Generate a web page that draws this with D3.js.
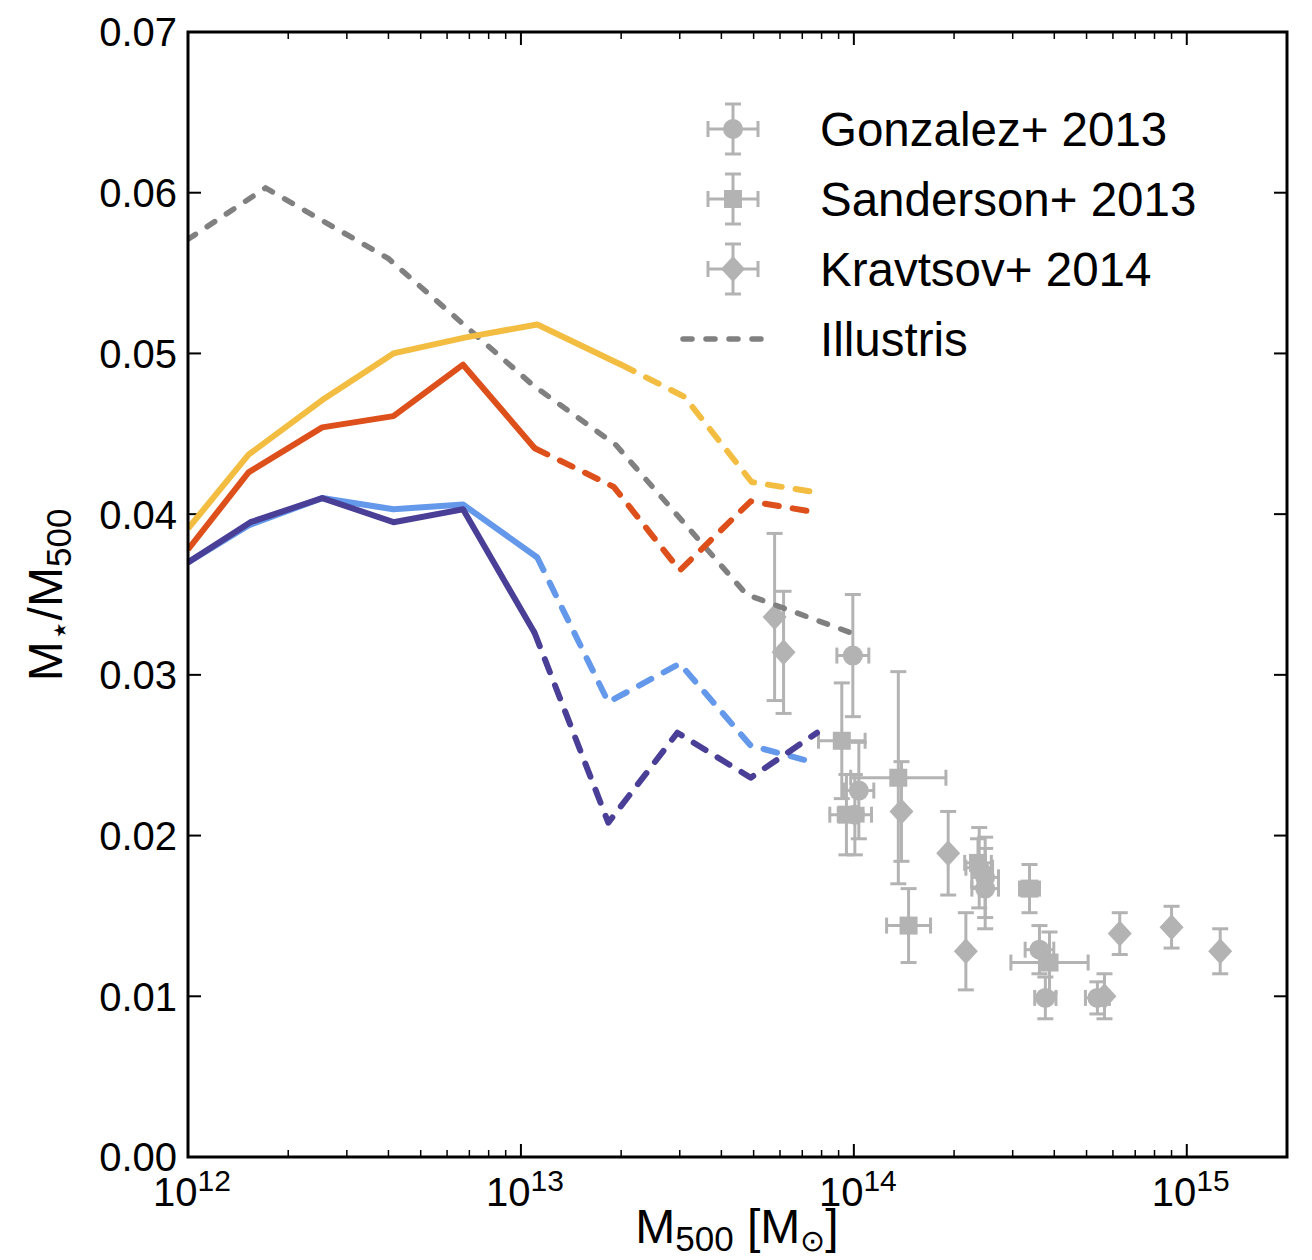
<!DOCTYPE html>
<html>
<head>
<meta charset="utf-8">
<script src="https://cdn.jsdelivr.net/npm/d3@7"></script>
<style>
  body { margin: 0; background: #fff; }
  text { font-family: "Liberation Sans", Arial, sans-serif; fill: #000; }
</style>
</head>
<body>
<div id="chart-container"></div>
<script>
const width = 1312;
const height = 1260;
const margin = { top: 32, left: 188, right: 25, bottom: 103 };

// simulation curves (halo mass, stellar fraction)
const yellowM = [1e12, 1.52e12, 2.53e12, 4.14e12, 6.83e12, 1.12e13, 2.0e13, 3.1e13, 4.93e13, 8.0e13];
const yellowF = [0.0391, 0.0437, 0.0471, 0.0500, 0.0510, 0.0518, 0.0493, 0.0473, 0.0420, 0.0413];
const redM = [1e12, 1.52e12, 2.53e12, 4.14e12, 6.7e12, 1.1e13, 1.9e13, 3.0e13, 4.9e13, 7.75e13];
const redF = [0.0378, 0.0426, 0.0454, 0.0461, 0.0493, 0.0441, 0.0417, 0.0365, 0.0408, 0.0401];
const blueM = [1e12, 1.52e12, 2.53e12, 4.14e12, 6.7e12, 1.12e13, 1.83e13, 3.0e13, 4.9e13, 7.75e13];
const blueF = [0.0370, 0.0393, 0.0410, 0.0403, 0.0406, 0.0373, 0.0283, 0.0307, 0.0256, 0.0245];
const purpleM = [1e12, 1.54e12, 2.53e12, 4.14e12, 6.7e12, 1.1e13, 1.83e13, 2.95e13, 4.9e13, 7.75e13];
const purpleF = [0.0370, 0.0395, 0.0410, 0.0395, 0.0403, 0.0326, 0.0208, 0.0264, 0.0236, 0.0264];
const illustrisM = [1e12, 1.71e12, 4.0e12, 1.09e13, 1.93e13, 4.76e13, 9.86e13];
const illustrisF = [0.0571, 0.0603, 0.0559, 0.0480, 0.0443, 0.0350, 0.0326];

// observations
const gonM = [9.93e13, 1.035e14, 1.007e14, 2.38e14, 2.48e14, 2.48e14, 3.61e14, 3.76e14, 5.39e14];
const gonF = [0.0312, 0.0228, 0.0213, 0.0180, 0.0174, 0.0167, 0.0129, 0.0099, 0.0099];
const gonDex = [0.048, 0.045, 0.05, 0.04, 0.04, 0.04, 0.043, 0.032, 0.036];
const gonErr = [0.0038, 0.003, 0.0025, 0.0025, 0.0025, 0.0025, 0.0015, 0.0013, 0.001];

const sanM = [9.2e13, 9.5e13, 1.36e14, 1.46e14, 2.36e14, 3.37e14, 3.87e14];
const sanF = [0.0259, 0.0213, 0.0236, 0.0144, 0.0183, 0.0167, 0.0121];
const sanDex = [0.07, 0.05, 0.143, 0.066, 0.04, 0.03, 0.116];
const sanErr = [0.0036, 0.0025, 0.0066, 0.0023, 0.0015, 0.0015, 0.0019];

const kraM = [5.78e13, 6.15e13, 1.39e14, 1.92e14, 2.17e14, 5.66e14, 6.29e14, 9.0e14, 1.26e15];
const kraF = [0.0336, 0.0314, 0.0215, 0.0189, 0.0128, 0.0100, 0.0139, 0.0143, 0.0128];
const kraErr = [0.0052, 0.0038, 0.0031, 0.0026, 0.0024, 0.0014, 0.0013, 0.0013, 0.0014];

const yTicks = [0, 0.01, 0.02, 0.03, 0.04, 0.05, 0.06, 0.07];
const xMajor = [1e12, 1e13, 1e14, 1e15];
const legendNames = ["Gonzalez+ 2013", "Sanderson+ 2013", "Kravtsov+ 2014", "Illustris"];

const obsColor = "#b3b3b3";

const svg = d3.select("#chart-container").append("svg")
  .attr("width", width).attr("height", height);

const x = d3.scaleLog()
  .domain([1e12, 2e15])
  .range([margin.left, width - margin.right]);

const y = d3.scaleLinear()
  .domain([0, 0.07])
  .range([height - margin.bottom, margin.top]);

const x0 = x.range()[0], x1 = x.range()[1];
const y0 = y.range()[0], y1 = y.range()[1];

// minor ticks
let minor = [];
for (let e = 12; e <= 15; e++) {
  for (let k = 2; k <= 9; k++) {
    let v = k * Math.pow(10, e);
    if (v < 2e15) minor.push(v);
  }
}

let gAxis = svg.append("g");

// x ticks bottom and top, inward
gAxis.selectAll(".xmaj").data(xMajor).enter().append("g")
  .each(function (d) {
    const g = d3.select(this);
    g.append("line").attr("x1", x(d)).attr("x2", x(d)).attr("y1", y0).attr("y2", y0 - 13)
      .attr("stroke", "#000").attr("stroke-width", 2);
    g.append("line").attr("x1", x(d)).attr("x2", x(d)).attr("y1", y1).attr("y2", y1 + 13)
      .attr("stroke", "#000").attr("stroke-width", 2);
  });
gAxis.selectAll(".xmin").data(minor).enter().append("g")
  .each(function (d) {
    const g = d3.select(this);
    g.append("line").attr("x1", x(d)).attr("x2", x(d)).attr("y1", y0).attr("y2", y0 - 7)
      .attr("stroke", "#000").attr("stroke-width", 1.5);
    g.append("line").attr("x1", x(d)).attr("x2", x(d)).attr("y1", y1).attr("y2", y1 + 7)
      .attr("stroke", "#000").attr("stroke-width", 1.5);
  });

// y ticks left and right
gAxis.selectAll(".ymaj").data(yTicks).enter().append("g")
  .each(function (d) {
    const g = d3.select(this);
    g.append("line").attr("x1", x0).attr("x2", x0 + 13).attr("y1", y(d)).attr("y2", y(d))
      .attr("stroke", "#000").attr("stroke-width", 2);
    g.append("line").attr("x1", x1).attr("x2", x1 - 13).attr("y1", y(d)).attr("y2", y(d))
      .attr("stroke", "#000").attr("stroke-width", 2);
  });

// y tick labels
gAxis.selectAll(".ylab").data(yTicks).enter().append("text")
  .attr("x", x0 - 11)
  .attr("y", d => y(d))
  .attr("dy", "0.36em")
  .attr("text-anchor", "end")
  .style("font-size", "40px")
  .text(d => d3.format(".2f")(d));

// x tick labels 10^n
xMajor.forEach(d => {
  const t = gAxis.append("text")
    .attr("x", x(d) + 4)
    .attr("y", y0 + 49)
    .attr("text-anchor", "middle")
    .style("font-size", "40px");
  t.append("tspan").text("10");
  t.append("tspan").attr("dy", -15).style("font-size", "30px").text(Math.round(Math.log10(d)));
});

// axis titles
const xt = svg.append("text")
  .attr("x", 737).attr("y", 1243)
  .attr("text-anchor", "middle")
  .style("font-size", "48px");
xt.append("tspan").text("M");
xt.append("tspan").attr("dy", 8).style("font-size", "35px").text("500");
xt.append("tspan").attr("dy", -8).text(" [M");
xt.append("tspan").attr("dy", 8).style("font-size", "30px").text("\u2299");
xt.append("tspan").attr("dy", -8).text("]");

const yt = svg.append("text")
  .attr("transform", "translate(62,595) rotate(-90)")
  .attr("text-anchor", "middle")
  .style("font-size", "48px");
yt.append("tspan").text("M");
yt.append("tspan").attr("dy", 9).style("font-size", "34px").text("\u22C6");
yt.append("tspan").attr("dy", -9).text("/M");
yt.append("tspan").attr("dy", 9).style("font-size", "35px").text("500");

// plot area clip
svg.append("clipPath").attr("id", "clip").append("rect")
  .attr("x", x0).attr("y", y1).attr("width", x1 - x0).attr("height", y0 - y1);

let g = svg.append("g").attr("clip-path", "url(#clip)");

// markers
let drawMarker = (sel, shape, cx, cy) => {
  if (shape === "circle") {
    sel.append("circle").attr("cx", cx).attr("cy", cy).attr("r", 10).attr("fill", obsColor);
  } else if (shape === "square") {
    sel.append("rect").attr("x", cx - 9).attr("y", cy - 9).attr("width", 18).attr("height", 18).attr("fill", obsColor);
  } else {
    sel.append("path").attr("d", `M${cx},${cy - 13}L${cx + 12},${cy}L${cx},${cy + 13}L${cx - 12},${cy}Z`)
      .attr("fill", obsColor);
  }
};

let errBar = (sel, xa, ya, xb, yb, horizontal) => {
  sel.append("line").attr("x1", xa).attr("y1", ya).attr("x2", xb).attr("y2", yb)
    .attr("stroke", obsColor).attr("stroke-width", 3);
  const cap = 8;
  [[xa, ya], [xb, yb]].forEach(p => {
    if (horizontal) {
      sel.append("line").attr("x1", p[0]).attr("x2", p[0]).attr("y1", p[1] - cap).attr("y2", p[1] + cap)
        .attr("stroke", obsColor).attr("stroke-width", 3);
    } else {
      sel.append("line").attr("x1", p[0] - cap).attr("x2", p[0] + cap).attr("y1", p[1]).attr("y2", p[1])
        .attr("stroke", obsColor).attr("stroke-width", 3);
    }
  });
};

let drawObs = (M, F, dex, err, shape) => {
  const gg = g.append("g");
  M.forEach((m, i) => {
    const cx = x(m), cy = y(F[i]);
    errBar(gg, cx, y(F[i] + err[i]), cx, y(F[i] - err[i]), false);
    if (dex) {
      errBar(gg, x(m / Math.pow(10, dex[i])), cy, x(m * Math.pow(10, dex[i])), cy, true);
    }
  });
  M.forEach((m, i) => drawMarker(gg, shape, x(m), y(F[i])));
};

drawObs(kraM, kraF, null, kraErr, "diamond");
drawObs(sanM, sanF, sanDex, sanErr, "square");
drawObs(gonM, gonF, gonDex, gonErr, "circle");

// curves
const line = d3.line().x(d => x(d[0])).y(d => y(d[1]));

let zip = (M, F) => M.map((m, i) => [m, F[i]]);

g.append("path")
  .attr("d", line(zip(illustrisM, illustrisF)))
  .attr("fill", "none").attr("stroke", "#808080").attr("stroke-width", 5.5)
  .attr("stroke-linecap", "round").attr("stroke-dasharray", "9,14");

let drawSim = (M, F, split, color) => {
  const pts = zip(M, F);
  g.append("path").attr("d", line(pts.slice(0, split + 1)))
    .attr("fill", "none").attr("stroke", color).attr("stroke-width", 6)
    .attr("stroke-linejoin", "round");
  g.append("path").attr("d", line(pts.slice(split)))
    .attr("fill", "none").attr("stroke", color).attr("stroke-width", 6)
    .attr("stroke-linecap", "round").attr("stroke-linejoin", "round")
    .attr("stroke-dasharray", "14,14");
};

drawSim(yellowM, yellowF, 6, "#f2bd40");
drawSim(redM, redF, 5, "#dd501b");
drawSim(blueM, blueF, 5, "#6398ea");
drawSim(purpleM, purpleF, 5, "#4a3f96");

// frame
svg.append("rect")
  .attr("x", x0).attr("y", y1).attr("width", x1 - x0).attr("height", y0 - y1)
  .attr("fill", "none").attr("stroke", "#000").attr("stroke-width", 3);

// legend
const legend = svg.append("g");
const shapes = ["circle", "square", "diamond"];
const legY = [129, 199, 269, 339];
shapes.forEach((s, i) => {
  const lg = legend.append("g");
  errBar(lg, 733, legY[i] - 25, 733, legY[i] + 25, false);
  errBar(lg, 708, legY[i], 758, legY[i], true);
  drawMarker(lg, s, 733, legY[i]);
});
legend.append("line")
  .attr("x1", 683).attr("x2", 773).attr("y1", legY[3]).attr("y2", legY[3])
  .attr("stroke", "#808080").attr("stroke-width", 5.5)
  .attr("stroke-linecap", "round").attr("stroke-dasharray", "9,14");

legend.selectAll(".lt").data(legendNames).enter().append("text")
  .attr("x", 820)
  .attr("y", (d, i) => legY[i])
  .attr("dy", "0.36em")
  .style("font-size", "47.5px")
  .text(d => d);
</script>
</body>
</html>
